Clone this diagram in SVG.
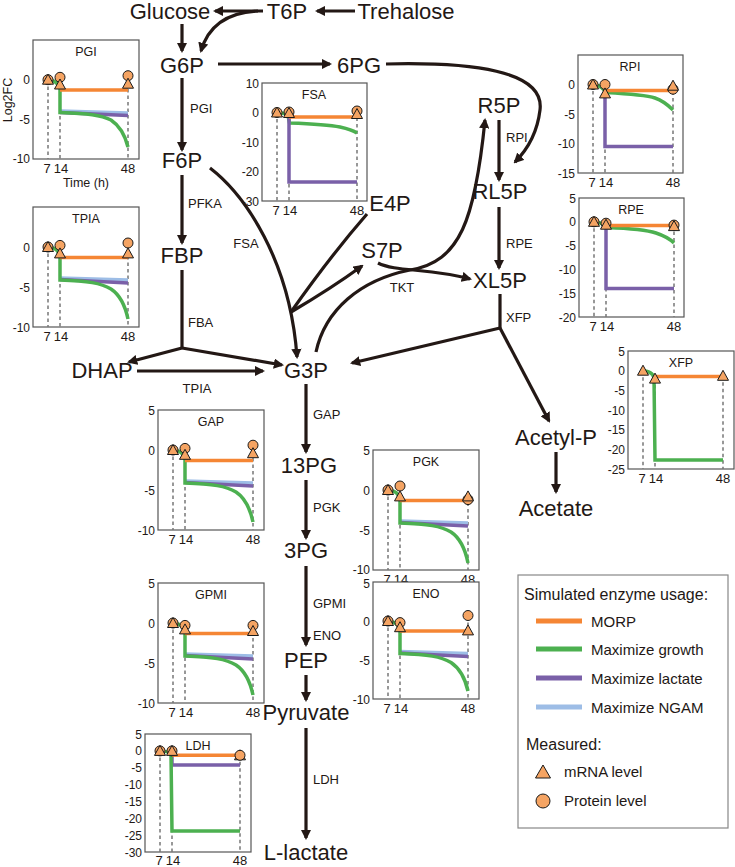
<svg xmlns="http://www.w3.org/2000/svg" width="735" height="867" viewBox="0 0 735 867">
<style>
text{font-family:"Liberation Sans",Arial,sans-serif;fill:#231815}
.box{fill:#fff;stroke:#555;stroke-width:1.2}
.dash{stroke:#777;stroke-width:1.5;stroke-dasharray:3.5 3;fill:none}
.or{stroke:#f58634;stroke-width:3.5;fill:none}
.gr{stroke:#4cb050;stroke-width:3.5;fill:none}
.pu{stroke:#7a60a8;stroke-width:3.5;fill:none}
.bl{stroke:#9dbde6;stroke-width:3.5;fill:none}
.mk{fill:#f5a463;stroke:#1a1a1a;stroke-width:1}
.tk{font-size:12px;text-anchor:end}
.xl{font-size:13px;text-anchor:middle}
.ttl{font-size:12.5px;text-anchor:middle}
.node{font-size:22px;text-anchor:middle}
.enz{font-size:13px}
.edge{stroke:#231815;stroke-width:3.2;fill:none}
.arr{marker-end:url(#ah)}
.lg{font-size:15px}
</style>
<defs>
<marker id="ah" viewBox="0 0 10 10" refX="8" refY="5" markerWidth="3.2" markerHeight="3.2" orient="auto" markerUnits="strokeWidth"><path d="M0,0 L10,5 L0,10 Z" fill="#231815"/></marker>
<circle id="cir" r="5" class="mk"/>
<path id="tri" d="M0,-5.5 L5.5,4.5 L-5.5,4.5 Z" class="mk"/>
</defs>

<!-- connectors -->
<g id="connectors">
<path class="edge arr" d="M355,11 L317,11"/>
<path class="edge arr" d="M263,11 L215,11"/>
<path class="edge arr" d="M258,11 Q212,13 201,51"/>
<path class="edge arr" d="M182,24 L182,51"/>
<path class="edge arr" d="M218,64 L330,64"/>
<path class="edge arr" d="M386,64 C470,62 545,70 540,110 C537,135 527,150 515,162"/>
<path class="edge arr" d="M499,120 L499,180"/>
<path class="edge arr" d="M499,207 L499,268"/>
<path class="edge" d="M500,294 L500,328"/>
<path class="edge arr" d="M500,328 L352,363"/>
<path class="edge arr" d="M500,328 L549,421"/>
<path class="edge arr" d="M556,452 L556,492"/>
<path class="edge arr" d="M316,352 C325,310 360,280 410,270 C460,262 475,220 485,120"/>
<path class="edge arr" d="M378,263 C395,272 430,268 470,279"/>
<path class="edge arr" d="M210,168 C245,195 290,260 297,357"/>
<path class="edge" d="M367,214 C340,245 310,285 291,312"/>
<path class="edge arr" d="M291,312 C320,295 340,282 362,266"/>
<path class="edge arr" d="M182,78 L182,150"/>
<path class="edge arr" d="M182,175 L182,243"/>
<path class="edge" d="M182,270 L182,348"/>
<path class="edge arr" d="M182,348 L129,362"/>
<path class="edge arr" d="M182,348 L282,365"/>
<path class="edge arr" d="M137,371 L263,371"/>
<path class="edge arr" d="M306,384 L306,452"/>
<path class="edge arr" d="M306,480 L306,538"/>
<path class="edge arr" d="M306,566 L306,645"/>
<path class="edge arr" d="M306,675 L306,700"/>
<path class="edge arr" d="M306,728 L306,838"/>
</g>

<!-- nodes -->
<g id="n-Glucose"><text class="node" x="170" y="19">Glucose</text></g>
<g id="n-T6P"><text class="node" x="287" y="19">T6P</text></g>
<g id="n-Trehalose"><text class="node" x="406" y="19">Trehalose</text></g>
<g id="n-G6P"><text class="node" x="182" y="73">G6P</text></g>
<g id="n-6PG"><text class="node" x="359" y="73">6PG</text></g>
<g id="n-F6P"><text class="node" x="182" y="168">F6P</text></g>
<g id="n-FBP"><text class="node" x="182" y="263">FBP</text></g>
<g id="n-DHAP"><text class="node" x="102" y="378">DHAP</text></g>
<g id="n-G3P"><text class="node" x="306" y="378">G3P</text></g>
<g id="n-E4P"><text class="node" x="390" y="211">E4P</text></g>
<g id="n-S7P"><text class="node" x="382" y="258">S7P</text></g>
<g id="n-R5P"><text class="node" x="499" y="113">R5P</text></g>
<g id="n-RL5P"><text class="node" x="500" y="199">RL5P</text></g>
<g id="n-XL5P"><text class="node" x="500" y="288">XL5P</text></g>
<g id="n-AcetylP"><text class="node" x="556" y="445">Acetyl-P</text></g>
<g id="n-Acetate"><text class="node" x="556" y="516">Acetate</text></g>
<g id="n-13PG"><text class="node" x="309" y="473">13PG</text></g>
<g id="n-3PG"><text class="node" x="306" y="558">3PG</text></g>
<g id="n-PEP"><text class="node" x="306" y="668">PEP</text></g>
<g id="n-Pyruvate"><text class="node" x="306" y="720">Pyruvate</text></g>
<g id="n-Llactate"><text class="node" x="306" y="860">L-lactate</text></g>

<!-- enzyme labels -->
<g id="enzymes">
<text class="enz" x="190" y="113">PGI</text>
<text class="enz" x="188" y="208">PFKA</text>
<text class="enz" x="188" y="327">FBA</text>
<text class="enz" x="197" y="393" text-anchor="middle">TPIA</text>
<text class="enz" x="246" y="248" text-anchor="middle">FSA</text>
<text class="enz" x="402" y="292" text-anchor="middle">TKT</text>
<text class="enz" x="506" y="142">RPI</text>
<text class="enz" x="506" y="248">RPE</text>
<text class="enz" x="506" y="322">XFP</text>
<text class="enz" x="313" y="419">GAP</text>
<text class="enz" x="313" y="512">PGK</text>
<text class="enz" x="313" y="608">GPMI</text>
<text class="enz" x="313" y="640">ENO</text>
<text class="enz" x="313" y="784">LDH</text>
</g>

<!-- PGI -->
<g id="plot-PGI" transform="translate(33,40)">
<rect class="box" width="106" height="119"/>
<text class="ttl" x="53" y="16">PGI</text>
<path class="dash" d="M15,40 V119 M27,37 V119 M95,36 V119"/>
<path class="bl" d="M27,71 L95,73"/>
<path class="pu" d="M27,72.5 L95,75.5"/>
<path class="gr" d="M13,39.7 C19,39.7 23,41 25,45 L27,49 L27,72.5 C55,73.5 68,75 78,80 C87,86 92,95 95,107"/>
<path class="or" d="M27,50 H95"/>
<use href="#cir" x="15" y="39.7"/><use href="#tri" x="15" y="39.7"/>
<use href="#cir" x="27" y="37.3"/><use href="#tri" x="27" y="44.5"/>
<use href="#cir" x="95" y="35.7"/><use href="#tri" x="95" y="43.7"/>
<text class="tk" x="-3" y="44">0</text><text class="tk" x="-3" y="84">-5</text><text class="tk" x="-3" y="123">-10</text>
<text class="xl" x="14" y="133">7</text><text class="xl" x="28" y="133">14</text><text class="xl" x="95" y="133">48</text>
<text class="ttl" x="53" y="147">Time (h)</text>
<text class="ttl" transform="translate(-21,60) rotate(-90)">Log2FC</text>
</g>

<!-- TPIA -->
<g id="plot-TPIA" transform="translate(33,207)">
<rect class="box" width="106" height="120"/>
<text class="ttl" x="53" y="16">TPIA</text>
<path class="dash" d="M15,40 V120 M27,38 V120 M95,36 V120"/>
<path class="bl" d="M27,71 L95,73"/>
<path class="pu" d="M27,72.5 L95,76"/>
<path class="gr" d="M13,40 C19,40 23,41 25,45 L27,49 L27,73 C55,74 68,76 78,82 C87,88 92,98 95,112"/>
<path class="or" d="M27,50.4 H95"/>
<use href="#cir" x="15" y="40"/><use href="#tri" x="15" y="40"/>
<use href="#cir" x="27" y="38.4"/><use href="#tri" x="27" y="46.4"/>
<use href="#cir" x="95" y="36"/><use href="#tri" x="95" y="46.4"/>
<text class="tk" x="-3" y="44.5">0</text><text class="tk" x="-3" y="84.5">-5</text><text class="tk" x="-3" y="124.5">-10</text>
<text class="xl" x="14" y="134">7</text><text class="xl" x="28" y="134">14</text><text class="xl" x="95" y="134">48</text>
</g>

<!-- FSA -->
<g id="plot-FSA" transform="translate(262,83)">
<rect class="box" width="105" height="118"/>
<text class="ttl" x="52" y="16">FSA</text>
<path class="dash" d="M15,29.5 V118 M27,29.5 V118 M95,28 V118"/>
<path class="gr" d="M13,29.5 C20,29.5 24,30 26,33 L27.5,40 C55,41 68,42 78,44 C87,46 92,48 95,50"/>
<path class="pu" d="M27,33 L27,99 H95"/>
<path class="or" d="M27,34 H95"/>
<use href="#cir" x="15" y="29.5"/><use href="#tri" x="15" y="29.5"/>
<use href="#cir" x="27" y="29"/><use href="#tri" x="27" y="30"/>
<use href="#cir" x="95" y="28"/><use href="#tri" x="95" y="31"/>
<text class="tk" x="-3" y="4.5">10</text><text class="tk" x="-3" y="34">0</text><text class="tk" x="-3" y="63.5">-10</text><text class="tk" x="-3" y="93">-20</text><text class="tk" x="-3" y="122.5">-30</text>
<text class="xl" x="14" y="132">7</text><text class="xl" x="28" y="132">14</text><text class="xl" x="95" y="132">48</text>
</g>

<!-- RPI -->
<g id="plot-RPI" transform="translate(578,55)">
<rect class="box" width="105" height="118"/>
<text class="ttl" x="52" y="16">RPI</text>
<path class="dash" d="M15,29.5 V118 M27,29.5 V118 M95,30 V118"/>
<path class="gr" d="M13,29.5 C19,29.5 23,31 26,35 L28,37.5 C55,39 68,40 77,43 C86,46 91,51 95,55"/>
<path class="pu" d="M27,35 L27,91.5 H95"/>
<path class="or" d="M27,35.4 H95"/>
<use href="#cir" x="15" y="29.5"/><use href="#tri" x="15" y="29.5"/>
<use href="#cir" x="27" y="29.5"/><use href="#tri" x="27" y="38.4"/>
<use href="#cir" x="95" y="34.2"/><use href="#tri" x="95" y="30.7"/>
<text class="tk" x="-3" y="34">0</text><text class="tk" x="-3" y="63.5">-5</text><text class="tk" x="-3" y="93">-10</text><text class="tk" x="-3" y="122.5">-15</text>
<text class="xl" x="14" y="132">7</text><text class="xl" x="28" y="132">14</text><text class="xl" x="95" y="132">48</text>
</g>

<!-- RPE -->
<g id="plot-RPE" transform="translate(579,198)">
<rect class="box" width="105" height="119"/>
<text class="ttl" x="52" y="16">RPE</text>
<path class="dash" d="M15,23.8 V119 M27,25 V119 M95,27 V119"/>
<path class="gr" d="M13,23.8 C19,23.8 23,25 26,28 L28,29.5 C55,30.5 68,32 77,35 C86,38 91,41 95,45"/>
<path class="pu" d="M27,28 L27,90.4 H95"/>
<path class="or" d="M27,27.6 H95"/>
<use href="#cir" x="15" y="23.8"/><use href="#tri" x="15" y="23.8"/>
<use href="#cir" x="27" y="25.2"/><use href="#tri" x="27" y="26.7"/>
<use href="#cir" x="95" y="27.1"/><use href="#tri" x="95" y="28.1"/>
<text class="tk" x="-3" y="4.5">5</text><text class="tk" x="-3" y="28.3">0</text><text class="tk" x="-3" y="52">-5</text><text class="tk" x="-3" y="76">-10</text><text class="tk" x="-3" y="99.7">-15</text><text class="tk" x="-3" y="123.5">-20</text>
<text class="xl" x="14" y="133">7</text><text class="xl" x="28" y="133">14</text><text class="xl" x="95" y="133">48</text>
</g>

<!-- XFP -->
<g id="plot-XFP" transform="translate(628,351)">
<rect class="box" width="106" height="118"/>
<text class="ttl" x="53" y="16">XFP</text>
<path class="dash" d="M15,19.7 V118 M27,27.6 V118 M95,24.8 V118"/>
<path class="gr" d="M13,19.7 C20,19.7 25,21 26,27 L27,109 H95"/>
<path class="or" d="M27,25.6 H95"/>
<use href="#tri" x="15" y="19.7"/>
<use href="#tri" x="27" y="27.6"/>
<use href="#tri" x="95" y="24.8"/>
<text class="tk" x="-3" y="4.5">5</text><text class="tk" x="-3" y="24.2">0</text><text class="tk" x="-3" y="43.8">-5</text><text class="tk" x="-3" y="63.5">-10</text><text class="tk" x="-3" y="83.2">-15</text><text class="tk" x="-3" y="102.8">-20</text><text class="tk" x="-3" y="122.5">-25</text>
<text class="xl" x="14" y="132">7</text><text class="xl" x="28" y="132">14</text><text class="xl" x="95" y="132">48</text>
</g>

<!-- GAP -->
<g id="plot-GAP" transform="translate(158,410)">
<rect class="box" width="106" height="120"/>
<text class="ttl" x="53" y="16">GAP</text>
<path class="dash" d="M15,40 V120 M27,38 V120 M95,35 V120"/>
<path class="bl" d="M27,71 L95,73"/>
<path class="pu" d="M27,72.5 L95,76"/>
<path class="gr" d="M13,40 C19,40 23,41 25,45 L27,49 L27,73 C55,74 68,76 78,82 C87,88 92,98 95,112"/>
<path class="or" d="M27,50.4 H95"/>
<use href="#cir" x="15" y="40"/><use href="#tri" x="15" y="40"/>
<use href="#cir" x="27" y="38.4"/><use href="#tri" x="27" y="44.8"/>
<use href="#cir" x="95" y="35.2"/><use href="#tri" x="95" y="43.2"/>
<text class="tk" x="-3" y="4.5">5</text><text class="tk" x="-3" y="44.5">0</text><text class="tk" x="-3" y="84.5">-5</text><text class="tk" x="-3" y="124.5">-10</text>
<text class="xl" x="14" y="134">7</text><text class="xl" x="28" y="134">14</text><text class="xl" x="95" y="134">48</text>
</g>

<!-- PGK -->
<g id="plot-PGK" transform="translate(373,450)">
<rect class="box" width="106" height="120"/>
<text class="ttl" x="53" y="16">PGK</text>
<path class="dash" d="M15,40 V120 M27,36 V120 M95,46 V120"/>
<path class="bl" d="M27,71 L95,73"/>
<path class="pu" d="M27,72.5 L95,76"/>
<path class="gr" d="M13,40 C19,40 23,41 25,45 L27,49 L27,73 C55,74 68,76 78,82 C87,88 92,98 95,113"/>
<path class="or" d="M27,50.4 H95"/>
<use href="#cir" x="15" y="40"/><use href="#tri" x="15" y="40"/>
<use href="#cir" x="27" y="36"/><use href="#tri" x="27" y="46.4"/>
<use href="#cir" x="95" y="49.6"/><use href="#tri" x="95" y="46.4"/>
<text class="tk" x="-3" y="4.5">5</text><text class="tk" x="-3" y="44.5">0</text><text class="tk" x="-3" y="84.5">-5</text><text class="tk" x="-3" y="124">-10</text>
<text class="xl" x="14" y="134">7</text><text class="xl" x="28" y="134">14</text><text class="xl" x="95" y="134">48</text>
</g>

<!-- GPMI -->
<g id="plot-GPMI" transform="translate(158,583)">
<rect class="box" width="106" height="120"/>
<text class="ttl" x="53" y="16">GPMI</text>
<path class="dash" d="M15,40 V120 M27,42 V120 M95,42 V120"/>
<path class="bl" d="M27,71 L95,73"/>
<path class="pu" d="M27,72.5 L95,76"/>
<path class="gr" d="M13,40 C19,40 23,41 25,45 L27,49 L27,73 C55,74 68,76 78,82 C87,88 92,98 95,112"/>
<path class="or" d="M27,50.4 H95"/>
<use href="#cir" x="15" y="40"/><use href="#tri" x="15" y="40"/>
<use href="#cir" x="27" y="42.4"/><use href="#tri" x="27" y="46.4"/>
<use href="#cir" x="95" y="42.4"/><use href="#tri" x="95" y="48"/>
<text class="tk" x="-3" y="4.5">5</text><text class="tk" x="-3" y="44.5">0</text><text class="tk" x="-3" y="84.5">-5</text><text class="tk" x="-3" y="124.5">-10</text>
<text class="xl" x="14" y="134">7</text><text class="xl" x="28" y="134">14</text><text class="xl" x="95" y="134">48</text>
</g>

<!-- ENO -->
<g id="plot-ENO" transform="translate(373,582)">
<rect class="box" width="106" height="117"/>
<text class="ttl" x="53" y="16">ENO</text>
<path class="dash" d="M15,39 V117 M27,41 V117 M95,34 V117"/>
<path class="bl" d="M27,69.5 L95,71.5"/>
<path class="pu" d="M27,71 L95,74.5"/>
<path class="gr" d="M13,39 C19,39 23,40.5 25,44 L27,48 L27,71.5 C55,72.5 68,74.5 78,80.5 C87,86.5 92,96 95,109"/>
<path class="or" d="M27,49 H95"/>
<use href="#cir" x="15" y="39"/><use href="#tri" x="15" y="39"/>
<use href="#cir" x="27" y="40.6"/><use href="#tri" x="27" y="45.2"/>
<use href="#cir" x="95" y="33.5"/><use href="#tri" x="95" y="48.4"/>
<text class="tk" x="-3" y="6">5</text><text class="tk" x="-3" y="43.5">0</text><text class="tk" x="-3" y="82.5">-5</text><text class="tk" x="-3" y="121.5">-10</text>
<text class="xl" x="14" y="131">7</text><text class="xl" x="28" y="131">14</text><text class="xl" x="95" y="131">48</text>
</g>

<!-- LDH -->
<g id="plot-LDH" transform="translate(145,734)">
<rect class="box" width="106" height="118"/>
<text class="ttl" x="53" y="16">LDH</text>
<path class="dash" d="M15,16.9 V118 M27,16.9 V118 M95,21.3 V118"/>
<path class="pu" d="M27,20 L27,31 H95"/>
<path class="gr" d="M13,16.9 C20,16.9 24,17.5 26,20 L27,97 H95"/>
<path class="or" d="M27,21.3 H95"/>
<use href="#cir" x="15" y="16.9"/><use href="#tri" x="15" y="16.9"/>
<use href="#cir" x="27" y="16.9"/><use href="#tri" x="27" y="16.9"/>
<use href="#tri" x="95" y="21.3"/><use href="#cir" x="95" y="21.3"/>
<text class="tk" x="-3" y="4.5">5</text><text class="tk" x="-3" y="21.4">0</text><text class="tk" x="-3" y="38.2">-5</text><text class="tk" x="-3" y="55.1">-10</text><text class="tk" x="-3" y="71.9">-15</text><text class="tk" x="-3" y="88.8">-20</text><text class="tk" x="-3" y="105.5">-25</text><text class="tk" x="-3" y="122.5">-30</text>
<text class="xl" x="14" y="131">7</text><text class="xl" x="28" y="131">14</text><text class="xl" x="95" y="131">48</text>
</g>

<!-- legend -->
<g id="legend">
<rect x="518" y="575" width="210" height="253" fill="#fff" stroke="#888" stroke-width="1.2"/>
<text x="524" y="600" font-size="16">Simulated enzyme usage:</text>
<line x1="536" y1="621" x2="582" y2="621" stroke="#f58634" stroke-width="5"/>
<text class="lg" x="591" y="626.5">MORP</text>
<line x1="536" y1="649" x2="582" y2="649" stroke="#4cb050" stroke-width="5"/>
<text class="lg" x="591" y="654.5">Maximize growth</text>
<line x1="536" y1="678" x2="582" y2="678" stroke="#7a60a8" stroke-width="5"/>
<text class="lg" x="591" y="683.5">Maximize lactate</text>
<line x1="536" y1="707" x2="582" y2="707" stroke="#9dbde6" stroke-width="5"/>
<text class="lg" x="591" y="712.5">Maximize NGAM</text>
<text x="526" y="750" font-size="16">Measured:</text>
<path d="M543,765 L550.5,778 L535.5,778 Z" class="mk"/>
<text class="lg" x="564" y="777">mRNA level</text>
<circle cx="543" cy="801" r="7" class="mk"/>
<text class="lg" x="564" y="806">Protein level</text>
</g>
</svg>
